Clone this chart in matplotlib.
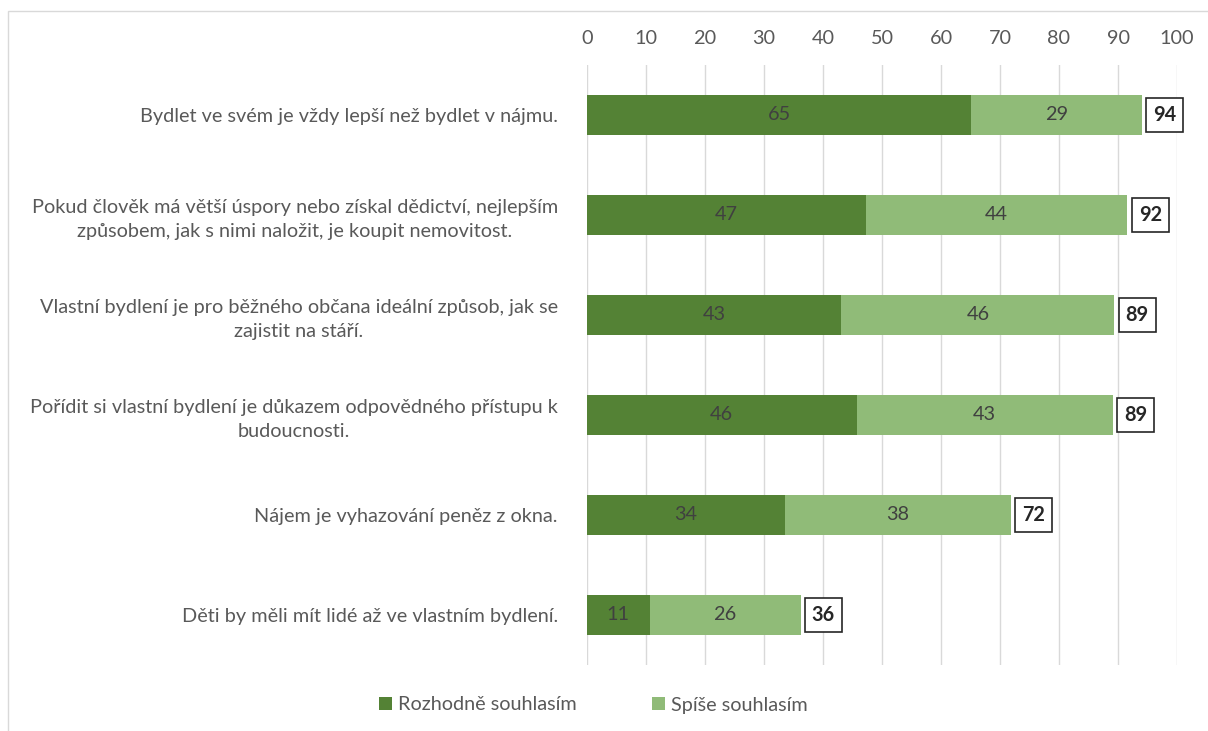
import numpy as np
import matplotlib.pyplot as plt
from matplotlib.patches import Rectangle

# tvrzení (shora dolů)
tvrzeni = [
    "Bydlet ve svém je vždy lepší než bydlet v nájmu.",
    "Pokud člověk má větší úspory nebo získal dědictví, nejlepším\nzpůsobem, jak s nimi naložit, je koupit nemovitost.",
    "Vlastní bydlení je pro běžného občana ideální způsob, jak se\nzajistit na stáří.",
    "Pořídit si vlastní bydlení je důkazem odpovědného přístupu k\nbudoucnosti.",
    "Nájem je vyhazování peněz z okna.",
    "Děti by měli mít lidé až ve vlastním bydlení.",
]
rozhodne = [65.1, 47.3, 43.1, 45.7, 33.6, 10.6]
spise = [28.9, 44.3, 46.3, 43.4, 38.2, 25.6]
nazvy_rad = ["Rozhodně souhlasím", "Spíše souhlasím"]
osa_ticky = list(range(0, 101, 10))

TMAVA = "#548235"
SVETLA = "#90bb78"
SEDA_TEXT = "#595959"
FS = 14.3

plt.rcParams["font.family"] = ["Lato", "DejaVu Sans"]

fig = plt.figure(figsize=(12.08, 7.31), dpi=100)
ax = fig.add_axes([587 / 1208, 1 - 665 / 731, 590 / 1208, 600 / 731])

y = np.arange(len(tvrzeni))
vyska = 0.4
b1 = ax.barh(y, rozhodne, height=vyska, color=TMAVA, label=nazvy_rad[0], zorder=3)
b2 = ax.barh(y, spise, left=rozhodne, height=vyska, color=SVETLA, label=nazvy_rad[1], zorder=3)

for r, s, yy in zip(rozhodne, spise, y):
    ax.text(r / 2, yy, f"{r:.0f}", ha="center", va="center", fontsize=FS, color="#404040", zorder=4)
    ax.text(r + s / 2, yy, f"{s:.0f}", ha="center", va="center", fontsize=FS, color="#404040", zorder=4)
    celkem = r + s
    ax.text(celkem + 1.9, yy, f"{celkem:.0f}", ha="left", va="center", fontsize=FS,
            fontweight="bold", color="#262626", zorder=4,
            bbox=dict(boxstyle="square,pad=0.36", fc="white", ec="#262626", lw=1.2))

ax.set_xlim(0, 100)
ax.set_ylim(len(tvrzeni) - 0.5, -0.5)
ax.set_xticks(osa_ticky)
ax.xaxis.tick_top()
ax.tick_params(axis="x", length=0, pad=13, labelsize=FS, labelcolor=SEDA_TEXT)
ax.set_yticks(y)
ax.set_yticklabels(tvrzeni, fontsize=FS, color=SEDA_TEXT, multialignment="center", linespacing=1.45)
ax.tick_params(axis="y", length=0, pad=21)
ax.grid(axis="x", color="#d9d9d9", lw=1, zorder=0)
for sp in ax.spines.values():
    sp.set_visible(False)

fig.legend(handles=[b1, b2], labels=nazvy_rad, loc="center", bbox_to_anchor=(0.491, 1 - 705 / 731),
           ncol=2, frameon=False, fontsize=FS, labelcolor=SEDA_TEXT, handlelength=0.65,
           handleheight=0.65, columnspacing=3.8, handletextpad=0.3)

# rámeček grafu
fig.patches.append(Rectangle((8 / 1208, -0.1), 1.2, 1 - 11 / 731 + 0.1, transform=fig.transFigure,
                             fill=False, ec="#d9d9d9", lw=1))

fig.savefig("out.png", dpi=100)
